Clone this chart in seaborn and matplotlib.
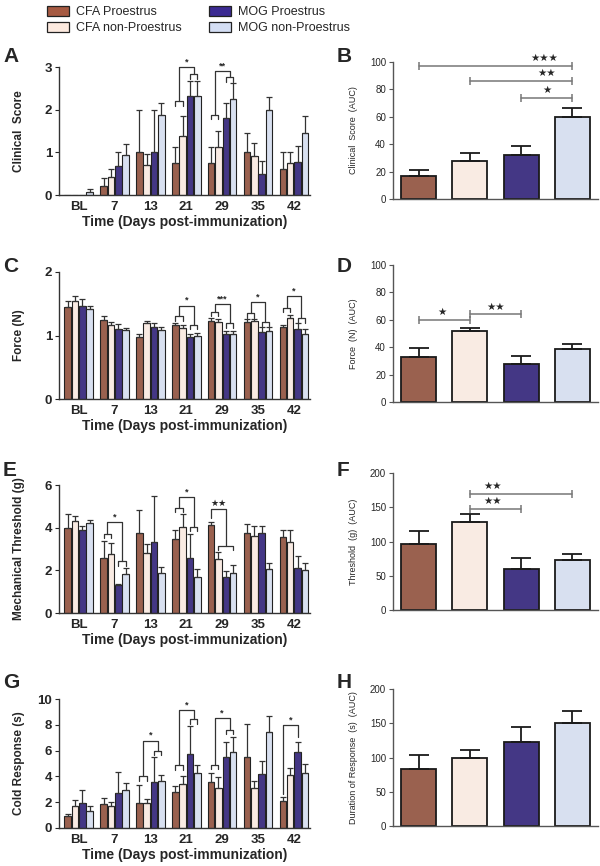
import numpy as np
import pandas as pd
import matplotlib
matplotlib.use("Agg")
import matplotlib.pyplot as plt
from matplotlib.patches import Patch
import seaborn as sns

# Categories
DAYS = ["BL", "7", "13", "21", "29", "35", "42"]
GROUPS = ["CFA Proestrus", "CFA non-Proestrus", "MOG Proestrus", "MOG non-Proestrus"]
COLORS = ["#A65A42", "#FDEADF", "#3B2A92", "#D4DEF4"]

# Panel A - clinical score (one row per group, one value per day)
score_mean = [[0, 0.2, 1.0, 0.75, 0.75, 1.0, 0.6],
              [0, 0.43, 0.7, 1.38, 1.12, 0.92, 0.75],
              [0, 0.67, 1.0, 2.33, 1.8, 0.5, 0.78],
              [0.08, 0.93, 1.88, 2.33, 2.25, 2.0, 1.45]]
score_err = [[0, 0.2, 1.0, 0.37, 0.37, 0.45, 0.4],
             [0, 0.19, 0.25, 0.47, 0.38, 0.31, 0.25],
             [0, 0.33, 1.0, 0.34, 0.35, 0.3, 0.37],
             [0.07, 0.27, 0.27, 0.34, 0.37, 0.3, 0.4]]

# Panel C - force
force_mean = [[1.45, 1.24, 0.98, 1.16, 1.23, 1.21, 1.13],
              [1.54, 1.17, 1.19, 1.12, 1.22, 1.23, 1.27],
              [1.46, 1.11, 1.14, 0.97, 1.03, 1.05, 1.11],
              [1.41, 1.08, 1.08, 1.0, 1.03, 1.07, 1.03]]
force_err = [[0.1, 0.06, 0.04, 0.04, 0.04, 0.05, 0.04],
             [0.08, 0.05, 0.04, 0.04, 0.04, 0.03, 0.05],
             [0.11, 0.07, 0.05, 0.06, 0.04, 0.09, 0.08],
             [0.05, 0.04, 0.05, 0.04, 0.04, 0.06, 0.07]]

# Panel E - mechanical threshold
mech_mean = [[3.97, 2.57, 3.73, 3.47, 4.14, 3.75, 3.58],
             [4.32, 2.78, 2.83, 4.05, 2.52, 3.59, 3.31],
             [3.87, 1.3, 3.33, 2.6, 1.67, 3.76, 2.12],
             [4.2, 1.83, 1.86, 1.67, 1.86, 2.06, 2.03]]
mech_err = [[0.65, 0.8, 1.12, 0.4, 0.14, 0.4, 0.32],
            [0.25, 0.52, 0.42, 0.6, 0.36, 0.51, 0.58],
            [0.21, 0.08, 2.17, 1.1, 0.28, 0.3, 0.56],
            [0.18, 0.27, 0.3, 0.38, 0.37, 0.3, 0.3]]

# Panel G - cold response
cold_mean = [[0.9, 1.87, 1.92, 2.78, 3.6, 5.53, 2.07],
             [1.72, 1.72, 1.97, 3.4, 3.08, 3.08, 4.13],
             [1.93, 2.73, 3.57, 5.77, 5.5, 4.2, 5.87],
             [1.28, 2.93, 3.67, 4.3, 5.92, 7.45, 4.27]]
cold_err = [[0.15, 0.43, 1.38, 0.44, 0.67, 2.52, 0.33],
            [0.43, 0.3, 0.25, 0.62, 0.87, 0.57, 0.52],
            [1.0, 1.6, 1.96, 2.11, 1.2, 1.02, 0.83],
            [0.44, 0.59, 0.43, 0.55, 1.11, 1.2, 0.73]]

# AUC panels (B, D, F, H)
score_auc = [16.5, 28, 32, 60]
score_auc_err = [4.5, 5.5, 7, 6.5]
force_auc = [32.5, 51.5, 28, 38.5]
force_auc_err = [7, 2.5, 5.5, 3.5]
mech_auc = [96, 129, 60.5, 73]
mech_auc_err = [20, 11, 16, 9]
cold_auc = [83, 100, 123, 151]
cold_auc_err = [20, 11, 22, 17]

# Brackets: (day index, left bars, left height, right bars, right height, top, label)
score_brackets = [(3, (0, 1), 2.2, (2, 3), 2.83, 3.0, "*"),
                  (4, (0, 1), 1.88, (2, 3), 2.76, 2.9, "**")]
force_brackets = [(3, (0, 1), 1.3, (2, 3), 1.17, 1.47, "*"),
                  (4, (0, 1), 1.37, (2, 3), 1.19, 1.5, "***"),
                  (5, (0, 1), 1.35, (2, 3), 1.22, 1.52, "*"),
                  (6, (0, 1), 1.44, (2, 3), 1.27, 1.62, "*")]
mech_brackets = [(1, (0, 1), 3.72, (2, 3), 2.42, 4.28, "*"),
                 (3, (0, 1), 4.93, (2, 3), 4.04, 5.45, "*"),
                 (4, (0, 0), 4.45, (1, 3), 3.15, 4.88, "\u2605\u2605")]
cold_brackets = [(2, (0, 1), 4.0, (2, 3), 6.0, 6.77, "*"),
                 (3, (0, 1), 4.86, (2, 3), 8.45, 9.17, "*"),
                 (4, (0, 1), 4.9, (2, 3), 7.62, 8.53, "*"),
                 (6, (0, 0), 2.65, (2, 2), 7.05, 8.0, "*")]

# AUC significance: (bar a, bar b, height, label x, label)
score_sig = [(0, 3, 97, 2.45, "\u2605\u2605\u2605"), (1, 3, 86, 2.5, "\u2605\u2605"),
             (2, 3, 74, 2.5, "\u2605")]
force_sig = [(0, 1, 60, 0.45, "\u2605"), (1, 2, 64, 1.5, "\u2605\u2605")]
mech_sig = [(1, 3, 170, 1.45, "\u2605\u2605"), (1, 2, 148, 1.45, "\u2605\u2605")]
cold_sig = []

W, H = 600, 866


def rect(x0, x1, ytop, ybot):
    return [x0 / W, 1 - ybot / H, (x1 - x0) / W, (ybot - ytop) / H]


def center(p):
    return p.get_x() + p.get_width() / 2


def time_panel(fig, r, means, errs, ymax, step, ylabel, brackets):
    ax = fig.add_axes(r)
    rows = [(d, g, v) for g, vals in zip(GROUPS, means) for d, v in zip(DAYS, vals)]
    df = pd.DataFrame(rows, columns=["Day", "Group", "Value"])
    sns.barplot(data=df, x="Day", y="Value", hue="Group", order=DAYS, hue_order=GROUPS,
                palette=COLORS, errorbar=None, width=0.82, gap=0.1, edgecolor="#222",
                linewidth=0.8, legend=False, ax=ax)
    for cont, err in zip(ax.containers, errs):
        # skip empty bars (no error bar drawn for a zero score)
        keep = [(center(p), p.get_height(), e) for p, e in zip(cont, err) if e > 0]
        xs, ys, es = zip(*keep)
        ax.errorbar(xs, ys, yerr=[np.zeros(len(es)), es], fmt="none", ecolor="#333",
                    elinewidth=0.9, capsize=2, capthick=0.9, zorder=1)
    tick = ymax * 0.035
    kw = dict(color="#333", lw=0.9, clip_on=False)
    for day, lb, hl, rb, hr, top, label in brackets:
        la, lz = center(ax.containers[lb[0]][day]), center(ax.containers[lb[1]][day])
        ra, rz = center(ax.containers[rb[0]][day]), center(ax.containers[rb[1]][day])
        for xa, xb, h in ((la, lz, hl), (ra, rz, hr)):
            if xa != xb:
                ax.plot([xa, xa, xb, xb], [h - tick, h, h, h - tick], **kw)
        lc, rc = (la + lz) / 2, (ra + rz) / 2
        ax.plot([lc, lc, rc, rc], [hl, top, top, hr], **kw)
        ax.text((lc + rc) / 2, top + ymax * 0.005, label, ha="center", va="bottom",
                fontsize=6.5, fontweight="bold")
    ax.set_xlim(-0.55, 6.45)
    ax.set_ylim(0, ymax)
    ax.set_yticks(np.arange(0, ymax + step / 2, step))
    sns.despine(ax=ax)
    for s in ("left", "bottom"):
        ax.spines[s].set_color("#333")
        ax.spines[s].set_linewidth(1.0)
    ax.tick_params(axis="x", length=0, labelsize=9.5, pad=4)
    ax.tick_params(axis="y", length=3, width=0.8, labelsize=9.5, pad=2)
    for t in ax.get_xticklabels() + ax.get_yticklabels():
        t.set_fontweight("bold")
    ax.set_xlabel("Time (Days post-immunization)", fontsize=10, fontweight="bold", labelpad=2)
    ax.set_ylabel(ylabel, fontsize=8.5, fontweight="bold")
    ax.yaxis.set_label_coords(-0.135, 0.5)
    return ax


def auc_panel(fig, r, means, errs, ymax, step, ylabel, sig):
    ax = fig.add_axes(r)
    df = pd.DataFrame({"Group": GROUPS, "AUC": means})
    sns.barplot(data=df, x="Group", y="AUC", hue="Group", order=GROUPS, hue_order=GROUPS,
                palette=COLORS, errorbar=None, width=0.68, edgecolor="#1a1a1a",
                linewidth=1.3, legend=False, ax=ax)
    bars = [c[0] for c in ax.containers]
    xs = [center(p) for p in bars]
    ax.errorbar(xs, means, yerr=[np.zeros(len(errs)), errs], fmt="none", ecolor="#1a1a1a",
                elinewidth=1.3, capsize=7, capthick=1.3, zorder=1)
    for a, b, h, tx, label in sig:
        ax.plot([xs[a], xs[b]], [h, h], color="#777", lw=1.1, marker="|", markersize=6,
                markeredgewidth=1.1)
        ax.text(tx, h + ymax * 0.02, label, ha="center", va="bottom", fontsize=7.5,
                family=["DejaVu Sans"])
    ax.set_xlim(-0.5, 3.5)
    ax.set_ylim(0, ymax)
    ax.set_yticks(np.arange(0, ymax + step / 2, step))
    ax.set_xticks([])
    ax.set_xlabel("")
    sns.despine(ax=ax)
    for s in ("left", "bottom"):
        ax.spines[s].set_color("#555")
        ax.spines[s].set_linewidth(1.0)
    ax.tick_params(axis="y", length=3, width=0.8, labelsize=7, pad=2, color="#555")
    ax.set_ylabel(ylabel, fontsize=6.5)
    ax.yaxis.set_label_coords(-0.17, 0.5)
    return ax


sns.set_style("ticks")
plt.rcParams["font.family"] = ["Liberation Sans", "DejaVu Sans"]

fig = plt.figure(figsize=(6, 8.66), dpi=100)

time_panel(fig, rect(59, 310, 67, 195), score_mean, score_err, 3, 1, "Clinical  Score", score_brackets)
time_panel(fig, rect(59, 310, 272, 399), force_mean, force_err, 2, 1, "Force (N)", force_brackets)
time_panel(fig, rect(59, 310, 485, 613), mech_mean, mech_err, 6, 2, "Mechanical Threshold (g)", mech_brackets)
time_panel(fig, rect(59, 310, 699, 828), cold_mean, cold_err, 10, 2, "Cold Response (s)", cold_brackets)

auc_panel(fig, rect(393, 598, 62, 199), score_auc, score_auc_err, 100, 20, "Clinical  Score  (AUC)", score_sig)
auc_panel(fig, rect(393, 598, 265, 402), force_auc, force_auc_err, 100, 20, "Force  (N)  (AUC)", force_sig)
auc_panel(fig, rect(393, 598, 473, 610), mech_auc, mech_auc_err, 200, 50, "Threshold  (g)  (AUC)", mech_sig)
auc_panel(fig, rect(393, 598, 689, 826), cold_auc, cold_auc_err, 200, 50, "Duration of Response  (s)  (AUC)", cold_sig)

# Panel letters
for letter, x, y in [("A", 3, 56), ("C", 3, 267), ("E", 3, 470), ("G", 3, 683),
                     ("B", 337, 56), ("D", 337, 267), ("F", 337, 470), ("H", 337, 683)]:
    fig.text(x / W, 1 - y / H, letter, fontsize=15, fontweight="bold", va="center", ha="left")

handles = [Patch(facecolor=c, edgecolor="#222", linewidth=0.9, label=g) for g, c in zip(GROUPS, COLORS)]
fig.legend(handles=handles, loc="upper left", bbox_to_anchor=(36 / W, 1.006), ncol=2,
           frameon=False, fontsize=9, handlelength=1.7, handleheight=0.85,
           columnspacing=2.2, labelspacing=0.3, handletextpad=0.6)

fig.savefig("out.png", dpi=100)
